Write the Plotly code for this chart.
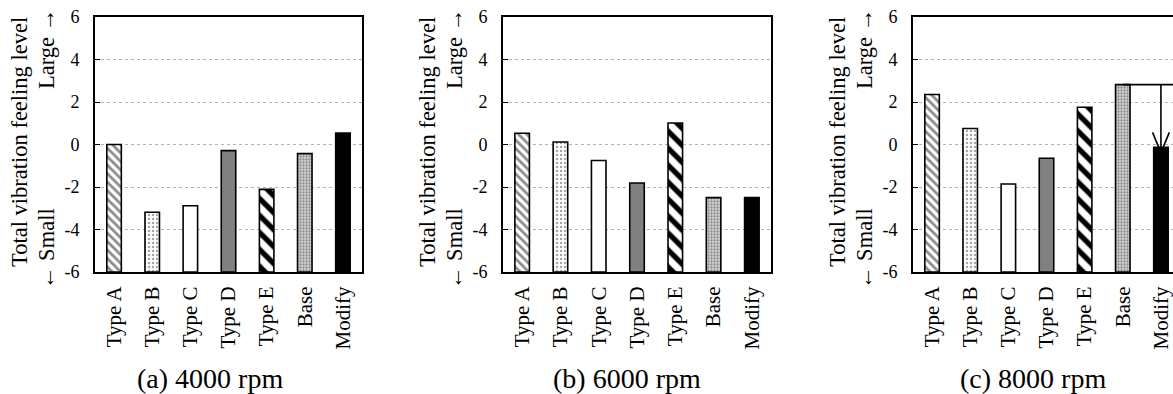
import plotly.graph_objects as go

categories = ["Type A", "Type B", "Type C", "Type D", "Type E", "Base", "Modify"]
v4000 = [0.0, -3.19, -2.88, -0.29, -2.11, -0.43, 0.54]
v6000 = [0.53, 0.12, -0.75, -1.81, 1.01, -2.50, -2.50]
v8000 = [2.35, 0.75, -1.86, -0.65, 1.75, 2.82, -0.13]
captions = ["(a) 4000 rpm", "(b) 6000 rpm", "(c) 8000 rpm"]
ytickvals = [-6, -4, -2, 0, 2, 4, 6]
yticktext = ["-6", "-4", "-2", "0", "2", "4", "6"]

W, H = 1173, 394
FONT = "Liberation Serif"

# per-category styling
styles = [
    dict(shape="\\", fg="#8a8a8a", bg="white", size=6, sol=0.45),
    dict(shape=".", fg="#a8a8a8", bg="white", size=4, sol=0.3),
    dict(shape="", fg="white", bg="white", size=6, sol=0.3),
    dict(shape="", fg="#808080", bg="#808080", size=6, sol=0.3),
    dict(shape="\\", fg="black", bg="white", size=12, sol=0.45),
    dict(shape=".", fg="#8c8c8c", bg="#d6d6d6", size=3, sol=0.45),
    dict(shape="", fg="black", bg="black", size=6, sol=0.3),
]

# panel geometry in pixels
px_left = [95, 503, 913]
px_right = [362, 771, 1173]
cat_w = (362 - 95) / 7.0
y_top, y_bot = 17, 272

fig = go.Figure()
xs = list(range(len(categories)))
for i, vals in enumerate([v4000, v6000, v8000]):
    ax = "" if i == 0 else str(i + 1)
    for j, v in enumerate(vals):
        st = styles[j]
        marker = dict(color=st["bg"], line=dict(color="black", width=1.6))
        if st["shape"]:
            marker["pattern"] = dict(shape=st["shape"], fgcolor=st["fg"], bgcolor=st["bg"],
                                     size=st["size"], solidity=st["sol"], fillmode="replace")
        fig.add_trace(go.Bar(
            x=[xs[j]], y=[v + 6], base=-6, width=0.38, marker=marker,
            xaxis="x" + ax, yaxis="y" + ax, showlegend=False, hoverinfo="skip"))

# arrow in panel (c): from Base level down to Modify
b = v8000[5]
m = v8000[6]
tip = m - 0.25
xr3 = (px_right[2] - px_left[2]) / cat_w - 0.5
for xx, yy in [([5, xr3], [b, b]), ([6, 6], [b, tip]),
               ([6 - 0.22, 6, 6 + 0.22], [tip + 0.95, tip, tip + 0.95])]:
    fig.add_trace(go.Scatter(x=xx, y=yy, mode="lines",
                             line=dict(color="black", width=1.6), xaxis="x3", yaxis="y3",
                             showlegend=False, hoverinfo="skip"))

layout = dict(width=W, height=H, margin=dict(l=0, r=0, t=0, b=0, autoexpand=False),
              paper_bgcolor="white", plot_bgcolor="white",
              font=dict(family=FONT, color="black"), barmode="overlay")
ydom = [(H - y_bot) / H, (H - y_top) / H]
annotations = []
for i in range(3):
    ax = "" if i == 0 else str(i + 1)
    xr = [-0.5, 6.5] if i < 2 else [-0.5, xr3]
    layout["xaxis" + ax] = dict(
        domain=[px_left[i] / W, min(px_right[i] / W, 1.0)], range=xr,
        tickvals=xs, ticktext=categories, tickangle=-90,
        tickfont=dict(family=FONT, size=21, color="black"),
        showline=True, linecolor="black", linewidth=2, mirror=True,
        showgrid=False, zeroline=False, ticks="", ticklabelstandoff=4,
        anchor="y" + ax, fixedrange=True, automargin=False)
    layout["yaxis" + ax] = dict(
        domain=ydom, range=[-6, 6], tickvals=ytickvals, ticktext=yticktext,
        tickfont=dict(family=FONT, size=18, color="black"),
        showline=True, linecolor="black", linewidth=2, mirror=(i < 2),
        showgrid=True, gridcolor="#b4b4b4", gridwidth=1, griddash="dot",
        zeroline=False, ticks="inside", ticklen=5, tickwidth=1, tickcolor="black",
        ticklabelstandoff=10, anchor="x" + ax, fixedrange=True, automargin=False)
    off = px_left[i] - 95
    annotations.append(dict(text="Total vibration feeling level", textangle=-90,
                            x=(19 + off) / W, y=(H - 142) / H, xref="paper", yref="paper",
                            xanchor="center", yanchor="middle", showarrow=False,
                            font=dict(family=FONT, size=22.5, color="black")))
    annotations.append(dict(text="Large →", textangle=-90,
                            x=(47 + off) / W, y=(H - 49) / H, xref="paper", yref="paper",
                            xanchor="center", yanchor="middle", showarrow=False,
                            font=dict(family=FONT, size=22.5, color="black")))
    annotations.append(dict(text="← Small", textangle=-90,
                            x=(47 + off) / W, y=(H - 249) / H, xref="paper", yref="paper",
                            xanchor="center", yanchor="middle", showarrow=False,
                            font=dict(family=FONT, size=22.5, color="black")))
cap_x = [210, 627, 1033]
for i in range(3):
    annotations.append(dict(text=captions[i], x=cap_x[i] / W, y=(H - 378) / H,
                            xref="paper", yref="paper", xanchor="center", yanchor="middle",
                            showarrow=False, font=dict(family=FONT, size=28, color="black")))
layout["annotations"] = annotations
fig.update_layout(**layout)
fig.write_html("out.html", config={"displayModeBar": False},
               post_script="document.body.style.margin='0';document.body.style.overflow='hidden';")
